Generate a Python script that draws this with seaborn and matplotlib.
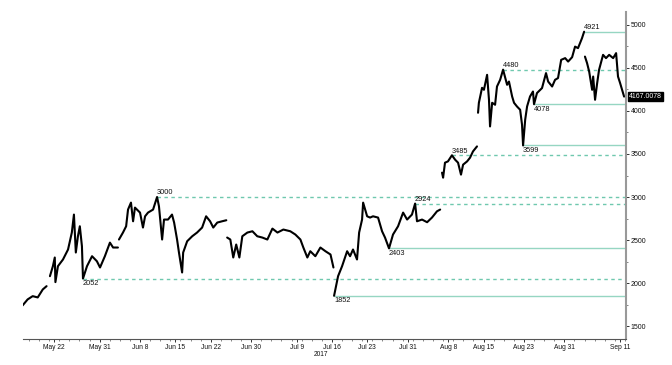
import matplotlib
matplotlib.use("Agg")
import matplotlib.pyplot as plt
import matplotlib.dates as mdates
import seaborn as sns
import pandas as pd

# ---- price segments (2017, "MM-DD HH") ----
seg1_t = ["05-15 18","05-16 18","05-17 18","05-18 18","05-19 18","05-20 12"]
seg1_v = [1740,1810,1848,1833,1926,1964]

seg2_t = ["05-21 04","05-21 18","05-22 03","05-22 06","05-22 18","05-23 18","05-24 18","05-25 12",
          "05-25 22","05-26 07","05-26 17","05-27 02","05-27 12","05-27 17","05-28 12","05-29 12",
          "05-30 11","05-31 02","06-01 01","06-02 01","06-02 16","06-03 15"]
seg2_v = [2080,2196,2297,2011,2196,2274,2390,2587,2796,2355,2544,2660,2428,2052,2196,2312,
          2254,2181,2312,2470,2413,2413]

seg3_t = ["06-03 20","06-04 15","06-05 06","06-05 15","06-06 05","06-06 15","06-07 00","06-08 00",
          "06-08 14","06-09 00","06-09 14","06-10 14","06-11 09","06-11 18","06-12 09","06-12 18",
          "06-13 13","06-14 08","06-14 18","06-15 08","06-15 17","06-16 08","06-16 13","06-17 08",
          "06-18 08","06-19 07","06-20 07","06-21 02","06-21 21","06-22 12","06-23 07","06-24 06",
          "06-25 02"]
seg3_v = [2506,2587,2660,2854,2935,2718,2877,2819,2645,2776,2819,2854,3000,2892,2506,2738,
          2738,2796,2703,2506,2355,2123,2355,2486,2544,2587,2645,2776,2718,2645,2703,2718,2730]

seg4_t = ["06-25 06","06-25 21","06-26 11","06-27 01","06-27 16","06-28 06","06-29 06","06-30 06",
          "07-01 05","07-02 05","07-03 05","07-04 05","07-05 05","07-06 09","07-07 18","07-08 18",
          "07-09 18","07-10 08","07-11 03","07-11 17","07-12 17","07-13 17","07-14 17","07-15 17",
          "07-16 07"]
seg4_v = [2529,2506,2297,2448,2297,2544,2587,2602,2544,2529,2506,2633,2587,2622,2602,2564,
          2506,2413,2297,2370,2312,2413,2370,2332,2181]

seg5_t = ["07-16 10","07-17 05","07-18 00","07-19 00","07-19 14","07-20 04","07-20 23","07-21 09",
          "07-21 23","07-22 04","07-22 23","07-23 13","07-24 03","07-25 03","07-25 22","07-26 12",
          "07-27 07","07-28 02","07-29 02","07-30 02","07-30 21","07-31 20","08-01 11","08-01 20",
          "08-02 20","08-03 20","08-04 19","08-05 19","08-06 10"]
seg5_v = [1852,2080,2196,2370,2312,2390,2274,2587,2738,2935,2776,2761,2776,2761,2602,2529,
          2403,2564,2660,2819,2738,2796,2924,2718,2738,2707,2761,2834,2854]

seg6_t = ["08-06 19","08-07 00","08-07 09","08-07 23","08-08 18","08-09 09","08-09 23","08-10 13",
          "08-10 23","08-11 18","08-12 08","08-12 22","08-13 17"]
seg6_v = [3283,3225,3399,3414,3485,3434,3399,3260,3376,3414,3457,3530,3588]

seg7_t = ["08-13 22","08-14 02","08-14 17","08-15 02","08-15 17","08-16 02","08-16 07","08-16 17",
          "08-17 07","08-17 16","08-18 07","08-18 21","08-19 16","08-20 01","08-20 16","08-21 01",
          "08-21 15","08-22 06","08-22 15","08-22 20","08-23 06","08-23 15","08-24 05","08-24 19",
          "08-25 00","08-25 14","08-26 14","08-27 09","08-27 19","08-28 14","08-29 04","08-29 18",
          "08-30 09","08-31 04","08-31 18","09-01 13","09-02 03","09-02 17","09-03 12","09-03 22"]
seg7_v = [3979,4095,4269,4246,4420,4130,3820,4095,4072,4284,4362,4480,4304,4342,4168,4095,
          4052,4014,3840,3599,3898,4052,4168,4226,4078,4208,4266,4440,4342,4284,4362,4382,
          4594,4614,4574,4625,4748,4730,4846,4921]

seg8_t = ["09-04 02","09-04 12","09-04 22","09-05 12","09-05 17","09-06 02","09-06 12","09-06 21",
          "09-07 16","09-08 06","09-08 21","09-09 16","09-10 06","09-10 15","09-11 01","09-11 15",
          "09-11 20"]
seg8_v = [4632,4556,4458,4246,4400,4130,4324,4478,4652,4614,4652,4614,4672,4400,4324,4208,4167.0078]

# ---- support / resistance levels ----
level_values = [2052, 3000, 1852, 2403, 2924, 3485, 3599, 4480, 4078, 4921]
level_starts = ["05-27 17","06-11 09","07-16 10","07-27 07","08-01 11",
                "08-08 18","08-22 20","08-18 21","08-25 00","09-03 22"]
level_dashed = [True, True, False, False, True, True, False, True, False, False]
level_below = [True, False, True, True, False, False, True, False, True, False]

last_price_label = "4167.0078"
last_price = 4167.0078

tick_dates = ["05-22","05-31","06-08","06-15","06-22","06-30","07-09","07-16",
              "07-23","07-31","08-08","08-15","08-23","08-31","09-11"]
tick_labels = ["May 22","May 31","Jun 8","Jun 15","Jun 22","Jun 30","Jul 9","Jul 16",
               "Jul 23","Jul 31","Aug 8","Aug 15","Aug 23","Aug 31","Sep 11"]
y_ticks = [1500, 2000, 2500, 3000, 3500, 4000, 4500, 5000]

def to_dt(s):
    return pd.to_datetime(["2017-" + x for x in s], format="%Y-%m-%d %H")

segs = [(seg1_t, seg1_v), (seg2_t, seg2_v), (seg3_t, seg3_v), (seg4_t, seg4_v),
        (seg5_t, seg5_v), (seg6_t, seg6_v), (seg7_t, seg7_v), (seg8_t, seg8_v)]
frames = []
for i, (t, v) in enumerate(segs):
    frames.append(pd.DataFrame({"date": to_dt(t), "price": v, "seg": i}))
df = pd.concat(frames, ignore_index=True)

sns.set_theme(style="white")
plt.rcParams["font.family"] = ["Liberation Sans", "DejaVu Sans"]

fig = plt.figure(figsize=(6.72, 3.65), dpi=100)
ax = fig.add_axes([23/672, 1 - 339/365, (626 - 23)/672, (339 - 12)/365])

sns.lineplot(data=df, x="date", y="price", units="seg", estimator=None,
             color="black", linewidth=1.5, ax=ax, legend=False)

xmin = pd.Timestamp("2017-05-15 20:00")
xmax = pd.Timestamp("2017-09-12 05:00")
ax.set_xlim(xmin, xmax)
ax.set_ylim(1350, 5150)

solid_color = "#96d6c2"
dash_color = "#6fc8ae"
starts = to_dt(level_starts)
for val, st, dashed, below in zip(level_values, starts, level_dashed, level_below):
    ax.hlines(val, st, xmax, colors=dash_color if dashed else solid_color, linewidth=1.0,
              linestyles=(0, (2.5, 2.5)) if dashed else "solid", zorder=1)
    ax.annotate(str(val), (mdates.date2num(st), val),
                xytext=(0, -1 if below else 0.5), textcoords="offset points",
                ha="left", va="top" if below else "bottom", fontsize=5.3, color="#111111")

# axes styling
for s in ["left", "top"]:
    ax.spines[s].set_visible(False)
ax.spines["right"].set_color("#999999")
ax.spines["right"].set_linewidth(1.5)
ax.spines["bottom"].set_color("#555555")
ax.spines["bottom"].set_linewidth(0.8)

ax.yaxis.tick_right()
ax.set_yticks(y_ticks)
ax.set_yticklabels([str(v) for v in y_ticks])
ax.yaxis.set_minor_locator(matplotlib.ticker.MultipleLocator(250))
ax.tick_params(axis="y", which="major", right=True, length=2.5, width=0.6, pad=1,
               labelsize=5.0, colors="#111111")
ax.tick_params(axis="y", which="minor", right=True, length=1.5, width=0.5, colors="#555555")

ax.set_xticks(pd.to_datetime(["2017-" + d for d in tick_dates]))
ax.set_xticklabels(tick_labels)
ax.xaxis.set_minor_locator(mdates.DayLocator(interval=2))
ax.tick_params(axis="x", which="major", bottom=True, length=2, width=0.6, pad=1.5,
               labelsize=4.8, colors="#111111")
ax.tick_params(axis="x", which="minor", bottom=True, length=1.5, width=0.5, colors="#555555")
ax.set_xlabel("")
ax.set_ylabel("")
ax.grid(False)

ax.annotate("2017", (mdates.date2num(pd.Timestamp("2017-07-13 19:00")), 0),
            xycoords=("data", "axes fraction"), xytext=(0, -8.5), textcoords="offset points",
            ha="center", va="top", fontsize=4.8, color="#111111")

ax.annotate(last_price_label, (1.0, last_price), xycoords=("axes fraction", "data"),
            xytext=(2, 0), textcoords="offset points", ha="left", va="center",
            fontsize=5.0, color="white",
            bbox=dict(boxstyle="square,pad=0.15", fc="black", ec="black"))

fig.savefig("out.png", dpi=100)
